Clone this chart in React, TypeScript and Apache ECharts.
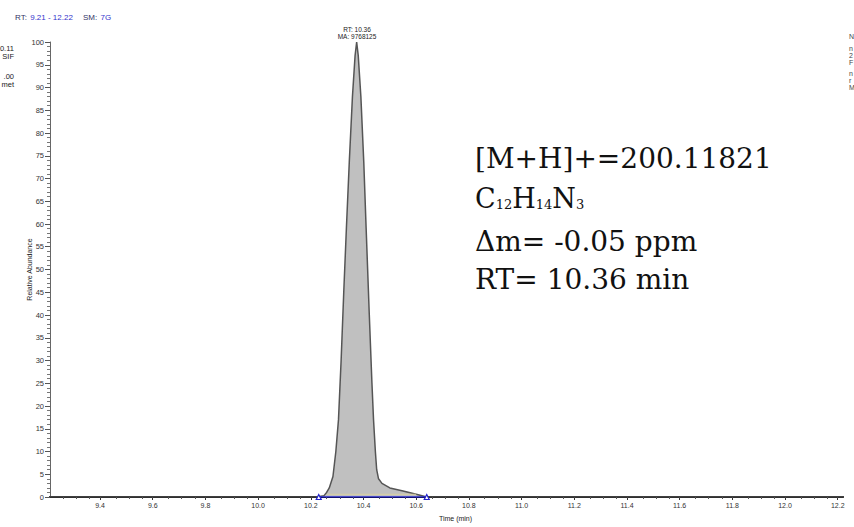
import React, { useEffect, useRef } from "react";
import * as echarts from "echarts";

// Chromatogram (retention time in min, relative abundance in %)
const peakTimes = [9.21, 10.22, 10.25, 10.26, 10.27, 10.284, 10.295, 10.305, 10.315, 10.325, 10.335, 10.346, 10.358, 10.368, 10.374, 10.38, 10.39, 10.401, 10.41, 10.422, 10.432, 10.438, 10.445, 10.45, 10.457, 10.47, 10.5, 10.55, 10.6, 10.64, 12.22];
const peakValues = [0, 0, 0.3, 1, 2, 4.5, 10, 17, 30, 45, 59, 73.6, 88, 97, 100, 97, 88, 73.6, 59, 40, 25, 17, 10, 6, 4, 3, 2, 1.3, 0.6, 0, 0];
// integration baseline
const baseTimes = [10.23, 10.64];
const baseValues = [0, 0];
const innerBaseTimes = [10.26, 10.6];
const innerBaseValues = [0.6, 0.6];

const xMin = 9.21;
const xMax = 12.22;
const xTicks = ["9.4", "9.6", "9.8", "10.0", "10.2", "10.4", "10.6", "10.8", "11.0", "11.2", "11.4", "11.6", "11.8", "12.0", "12.2"];

const peakLabel = ["RT: 10.36", "MA: 9768125"];
const infoLines = ["[M+H]+=200.11821", "Δm= -0.05 ppm", "RT= 10.36 min"];

export default function App() {
  const ref = useRef<HTMLDivElement>(null);
  useEffect(() => {
    if (!ref.current) return;
    const chart = echarts.init(ref.current, null, { renderer: "svg" });
    const pts = peakTimes.map((t, i) => [t, peakValues[i]]);
    const base = baseTimes.map((t, i) => [t, baseValues[i]]);
    const innerBase = innerBaseTimes.map((t, i) => [t, innerBaseValues[i]]);
    const tickSet = new Set(xTicks);
    const sans = "Liberation Sans, Arial, sans-serif";
    const serif = "DejaVu Serif, serif";
    chart.setOption({
      animation: false,
      backgroundColor: "#ffffff",
      grid: { left: 50, right: 11, top: 42, bottom: 27.5, containLabel: false },
      xAxis: {
        type: "value",
        min: xMin,
        max: xMax,
        interval: 0.2,
        name: "Time (min)",
        nameLocation: "middle",
        nameGap: 18,
        nameMoveOverlap: false,
        nameTextStyle: { fontSize: 7, color: "#222", fontFamily: sans, padding: [0, 0, 0, 18] },
        axisLine: { show: true, lineStyle: { color: "#000", width: 2 } },
        axisTick: {
          show: true,
          length: 3,
          lineStyle: { color: "#333", width: 1 },
          customValues: xTicks.map(Number),
        },
        minorTick: { show: true, splitNumber: 4, length: 2, lineStyle: { color: "#555" } },
        axisLabel: {
          fontSize: 7,
          color: "#333",
          fontFamily: sans,
          margin: 5,
          customValues: xTicks.map(Number),
          formatter: (v: number) => {
            const s = v.toFixed(1);
            return tickSet.has(s) ? s : "";
          },
        },
        splitLine: { show: false },
      },
      yAxis: {
        type: "value",
        min: 0,
        max: 100,
        interval: 5,
        name: "Relative Abundance",
        nameLocation: "middle",
        nameGap: 17,
        nameMoveOverlap: false,
        nameTextStyle: { fontSize: 7, color: "#222", fontFamily: sans },
        axisLine: { show: true, lineStyle: { color: "#666", width: 1 } },
        axisTick: { show: true, length: 5, lineStyle: { color: "#555" } },
        minorTick: { show: true, splitNumber: 5, length: 3, lineStyle: { color: "#777" } },
        axisLabel: { fontSize: 7.5, color: "#333", fontFamily: sans, margin: 6 },
        splitLine: { show: false },
      },
      series: [
        {
          type: "line",
          data: pts,
          showSymbol: false,
          lineStyle: { color: "#555", width: 1.5 },
          areaStyle: { color: "#c0c0c0", opacity: 1 },
          z: 2,
        },
        {
          type: "line",
          data: innerBase,
          showSymbol: false,
          lineStyle: { color: "#d8d0a0", width: 1 },
          z: 3,
        },
        {
          type: "line",
          data: base,
          symbol: "triangle",
          symbolSize: 5,
          showSymbol: true,
          itemStyle: { color: "#ffffff", borderColor: "#2222cc", borderWidth: 1.2 },
          lineStyle: { color: "#2222cc", width: 1.5 },
          z: 4,
        },
      ],
      graphic: [
        {
          type: "text",
          left: 15,
          top: 11,
          style: {
            text: "{a|RT:} {b|9.21 - 12.22}   {a|SM:} {b|7G}",
            rich: {
              a: { fontSize: 8, fontFamily: sans, fill: "#333366" },
              b: { fontSize: 8, fontFamily: sans, fill: "#3333cc" },
            },
          },
        },
        {
          type: "text",
          x: 357,
          y: 29,
          style: { text: peakLabel[0], fontSize: 6.5, fontFamily: sans, fill: "#222", align: "center", verticalAlign: "middle" },
        },
        {
          type: "text",
          x: 357,
          y: 36,
          style: { text: peakLabel[1], fontSize: 6.5, fontFamily: sans, fill: "#222", align: "center", verticalAlign: "middle" },
        },
        { type: "text", x: 14, y: 48, style: { text: "0.11", fontSize: 7.5, fontFamily: sans, fill: "#222", align: "right", verticalAlign: "middle" } },
        { type: "text", x: 14, y: 56, style: { text: "SIF", fontSize: 7.5, fontFamily: sans, fill: "#222", align: "right", verticalAlign: "middle" } },
        { type: "text", x: 14, y: 76, style: { text: ".00", fontSize: 7.5, fontFamily: sans, fill: "#222", align: "right", verticalAlign: "middle" } },
        { type: "text", x: 14, y: 84, style: { text: "met", fontSize: 7.5, fontFamily: sans, fill: "#222", align: "right", verticalAlign: "middle" } },
        { type: "text", x: 849, y: 36, style: { text: "N", fontSize: 7, fontFamily: sans, fill: "#444", verticalAlign: "middle" } },
        { type: "text", x: 849, y: 48, style: { text: "n", fontSize: 7, fontFamily: sans, fill: "#444", verticalAlign: "middle" } },
        { type: "text", x: 849, y: 55, style: { text: "2", fontSize: 7, fontFamily: sans, fill: "#444", verticalAlign: "middle" } },
        { type: "text", x: 849, y: 62, style: { text: "F", fontSize: 7, fontFamily: sans, fill: "#444", verticalAlign: "middle" } },
        { type: "text", x: 849, y: 73, style: { text: "n", fontSize: 7, fontFamily: sans, fill: "#444", verticalAlign: "middle" } },
        { type: "text", x: 849, y: 80, style: { text: "r", fontSize: 7, fontFamily: sans, fill: "#444", verticalAlign: "middle" } },
        { type: "text", x: 849, y: 87, style: { text: "M", fontSize: 7, fontFamily: sans, fill: "#444", verticalAlign: "middle" } },
        {
          type: "text",
          x: 475,
          y: 158,
          style: { text: infoLines[0], fontSize: 28, fontFamily: serif, fill: "#111", verticalAlign: "middle" },
        },
        {
          type: "text",
          x: 475,
          y: 198,
          style: {
            text: "{b|C}{s|12}{b|H}{s|14}{b|N}{s|3}",
            verticalAlign: "middle",
            rich: {
              b: { fontSize: 27, fontFamily: serif, fill: "#111", verticalAlign: "bottom" },
              s: { fontSize: 13, fontFamily: serif, fill: "#111", verticalAlign: "bottom", padding: [0, 0, 1, 0] },
            },
          },
        },
        {
          type: "text",
          x: 475,
          y: 241,
          style: { text: infoLines[1], fontSize: 28, fontFamily: serif, fill: "#111", verticalAlign: "middle" },
        },
        {
          type: "text",
          x: 475,
          y: 279,
          style: { text: infoLines[2], fontSize: 28, fontFamily: serif, fill: "#111", verticalAlign: "middle" },
        },
      ],
    });
    return () => chart.dispose();
  }, []);
  return <div ref={ref} style={{ width: 854, height: 527, position: "fixed", left: 0, top: 0, background: "#fff" }} />;
}
